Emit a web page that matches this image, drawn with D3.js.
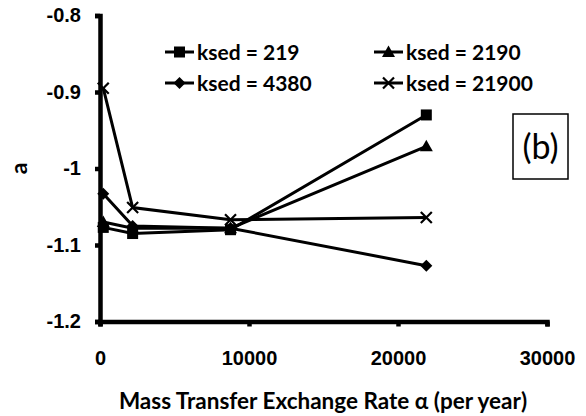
<!DOCTYPE html>
<html>
<head>
<meta charset="utf-8">
<script src="https://cdn.jsdelivr.net/npm/d3@7"></script>
<style>
  body { margin: 0; background: #fff; }
  svg { display: block; font-family: Lato, "Open Sans", sans-serif; }
  .axis text { font-size: 20px; font-weight: bold; fill: #000; }
</style>
</head>
<body>
<div id="chart"></div>
<script>
// exchange rates (per year)
var alphaValues = [219, 2190, 8760, 21900];
var seriesNames = ['ksed = 219', 'ksed = 2190', 'ksed = 4380', 'ksed = 21900'];
var ksed219 = [-1.077, -1.085, -1.080, -0.930];
var ksed2190 = [-1.070, -1.078, -1.078, -0.971];
var ksed4380 = [-1.033, -1.075, -1.078, -1.127];
var ksed21900 = [-0.895, -1.051, -1.067, -1.064];
var xTicks = [0, 10000, 20000, 30000];
var yTicks = [-1.2, -1.1, -1, -0.9, -0.8];
var markers = ['square', 'triangle', 'diamond', 'cross'];

var width = 586, height = 416;
var margin = {left: 100, right: 39, top: 15.5, bottom: 94.5};

var svg = d3.select('#chart').append('svg').attr('width', width).attr('height', height);

var x = d3.scaleLinear().domain([0, 30000]).range([margin.left, width - margin.right]);
var y = d3.scaleLinear().domain([-1.2, -0.8]).range([height - margin.bottom, margin.top]);

var allSeries = [ksed219, ksed2190, ksed4380, ksed21900];

// axes (plain hyphen for negatives, like the original)
svg.append('g').attr('class', 'axis')
  .attr('transform', 'translate(' + margin.left + ',0)')
  .call(d3.axisLeft(y).tickValues(yTicks).tickSize(5).tickPadding(14).tickFormat(function(d) { return String(d); }));
svg.append('g').attr('class', 'axis')
  .attr('transform', 'translate(0,' + y(-1.2) + ')')
  .call(d3.axisBottom(x).tickValues(xTicks).tickSize(5).tickPadding(24).tickFormat(function(d) { return String(d); }));
svg.selectAll('.axis path').attr('stroke', '#000').attr('stroke-width', 4.5);
svg.selectAll('.axis line').attr('stroke', '#000').attr('stroke-width', 4.5);

// axis titles
svg.append('text')
  .attr('transform', 'translate(27,' + y(-1) + ') rotate(-90)')
  .attr('text-anchor', 'middle')
  .style('font-size', '23px').style('font-weight', 'bold')
  .text('a');
svg.append('text')
  .attr('x', 323).attr('y', 409)
  .attr('text-anchor', 'middle')
  .style('font-size', '22.5px').style('font-weight', 'bold')
  .text('Mass Transfer Exchange Rate α (per year)');

function drawMarker(g, type, cx, cy) {
  if (type === 'square') {
    g.append('rect').attr('x', cx - 5.5).attr('y', cy - 5.5).attr('width', 11).attr('height', 11).attr('fill', '#000');
  } else if (type === 'triangle') {
    g.append('path').attr('d', 'M' + cx + ',' + (cy - 6.5) + 'L' + (cx + 6.5) + ',' + (cy + 5) + 'L' + (cx - 6.5) + ',' + (cy + 5) + 'Z').attr('fill', '#000');
  } else if (type === 'diamond') {
    g.append('path').attr('d', 'M' + cx + ',' + (cy - 6) + 'L' + (cx + 6) + ',' + cy + 'L' + cx + ',' + (cy + 6) + 'L' + (cx - 6) + ',' + cy + 'Z').attr('fill', '#000');
  } else {
    g.append('path').attr('d', 'M' + (cx - 5.5) + ',' + (cy - 5.5) + 'L' + (cx + 5.5) + ',' + (cy + 5.5) + 'M' + (cx + 5.5) + ',' + (cy - 5.5) + 'L' + (cx - 5.5) + ',' + (cy + 5.5))
      .attr('stroke', '#000').attr('stroke-width', 2.2).attr('fill', 'none');
  }
}

var line = d3.line().x(function(d, i) { return x(alphaValues[i]); }).y(function(d) { return y(d); });

allSeries.forEach(function(vals, s) {
  var g = svg.append('g');
  g.append('path').datum(vals).attr('d', line)
    .attr('fill', 'none').attr('stroke', '#000').attr('stroke-width', 3);
  vals.forEach(function(v, i) { drawMarker(g, markers[s], x(alphaValues[i]), y(v)); });
});

// legend: 219, 2190 on row 1, 4380, 21900 on row 2
var legendPos = [[165, 52], [374, 52], [165, 83], [374, 83]];
seriesNames.forEach(function(name, s) {
  var lx = legendPos[s][0], ly = legendPos[s][1];
  var g = svg.append('g');
  g.append('line').attr('x1', lx).attr('x2', lx + 29).attr('y1', ly).attr('y2', ly)
    .attr('stroke', '#000').attr('stroke-width', 3);
  drawMarker(g, markers[s], lx + 14.5, ly);
  g.append('text').attr('x', lx + 32).attr('y', ly + 7.5)
    .style('font-size', '21px').style('font-weight', 'bold').text(name);
});

// panel label
svg.append('rect').attr('x', 513).attr('y', 114).attr('width', 55).attr('height', 65)
  .attr('fill', 'none').attr('stroke', '#000').attr('stroke-width', 1.5);
svg.append('text').attr('x', 540.5).attr('y', 159).attr('text-anchor', 'middle')
  .style('font-size', '34px').text('(b)');
</script>
</body>
</html>
